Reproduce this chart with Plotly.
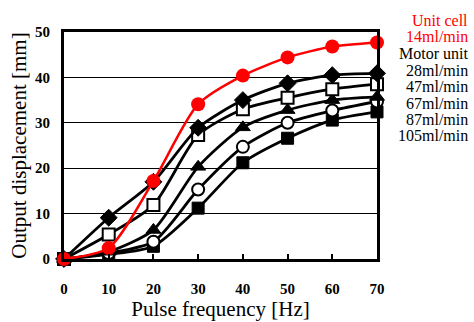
import plotly.graph_objects as go

freq = [0, 10, 20, 30, 40, 50, 60, 70]
unit_cell_14 = [0.0, 2.4, 17.2, 34.1, 40.4, 44.4, 46.8, 47.7]
motor_28 = [0.0, 9.1, 17.0, 28.9, 35.0, 38.7, 40.5, 40.9]
motor_47 = [0.0, 5.4, 11.9, 27.3, 33.0, 35.5, 37.4, 38.5]
motor_67 = [0.0, 1.6, 6.4, 20.3, 29.0, 32.8, 35.0, 35.7]
motor_87 = [0.0, 1.3, 3.8, 15.3, 24.7, 30.0, 32.7, 34.7]
motor_105 = [0.0, 1.0, 2.8, 11.2, 21.2, 26.6, 30.6, 32.4]

legend_lines = [("Unit cell", "red"), ("14ml/min", "red"), ("Motor unit", "black"),
                ("28ml/min", "black"), ("47ml/min", "black"), ("67ml/min", "black"),
                ("87ml/min", "black"), ("105ml/min", "black")]

FONT = "Liberation Serif"

fig = go.Figure()

black_series = [
    (motor_105, dict(symbol="square", color="black", size=12, line=dict(color="black", width=1))),
    (motor_87, dict(symbol="circle", color="white", size=12, line=dict(color="black", width=2))),
    (motor_67, dict(symbol="triangle-up", color="black", size=13, line=dict(color="black", width=1))),
    (motor_47, dict(symbol="square", color="white", size=12, line=dict(color="black", width=2))),
    (motor_28, dict(symbol="diamond", color="black", size=13, line=dict(color="black", width=1))),
]
for ys, mk in black_series:
    fig.add_trace(go.Scatter(x=freq, y=ys, mode="lines+markers",
                             line=dict(color="black", width=2.8, shape="spline", smoothing=0.7),
                             marker=mk, cliponaxis=False, showlegend=False))

fig.add_trace(go.Scatter(x=freq, y=unit_cell_14, mode="lines+markers",
                         line=dict(color="#ff0000", width=2.5, shape="spline", smoothing=0.7),
                         marker=dict(symbol="circle", color="#ff0000", size=14),
                         cliponaxis=False, showlegend=False))

# legend text lines (right aligned)
line_centers = [20, 37, 53.5, 70, 86.5, 103, 119, 135.5]
for (txt, col), cy in zip(legend_lines, line_centers):
    fig.add_annotation(xref="paper", yref="paper", x=(469 - 64) / 313, y=(259 - cy) / 227,
                       text=txt, showarrow=False, xanchor="right", yanchor="middle",
                       font=dict(family=FONT, size=16, color=col), borderpad=0)

fig.update_layout(
    width=474, height=322,
    margin=dict(l=64, r=97, t=32, b=63, autoexpand=False),
    plot_bgcolor="white", paper_bgcolor="white",
    font=dict(family=FONT, color="black"),
    xaxis=dict(range=[0, 70], tickvals=freq, ticks="inside", ticklen=5, tickwidth=1.5,
               tickcolor="black", showgrid=False, zeroline=False, automargin=False,
               showline=True, linecolor="black", linewidth=3, mirror=True,
               tickfont=dict(family=FONT, size=15, weight="bold"), ticklabelstandoff=14,
               title=dict(text="Pulse frequency [Hz]", font=dict(family=FONT, size=21), standoff=6)),
    yaxis=dict(range=[0, 50], tickvals=[0, 10, 20, 30, 40, 50], ticks="",
               showgrid=True, gridcolor="black", gridwidth=1.3, zeroline=False, automargin=False,
               showline=True, linecolor="black", linewidth=3, mirror=True,
               tickfont=dict(family=FONT, size=15, weight="bold"), ticklabelstandoff=8,
               title=dict(text="Output displacement [mm]", font=dict(family=FONT, size=21), standoff=3)),
)

fig.write_html("out.html")
